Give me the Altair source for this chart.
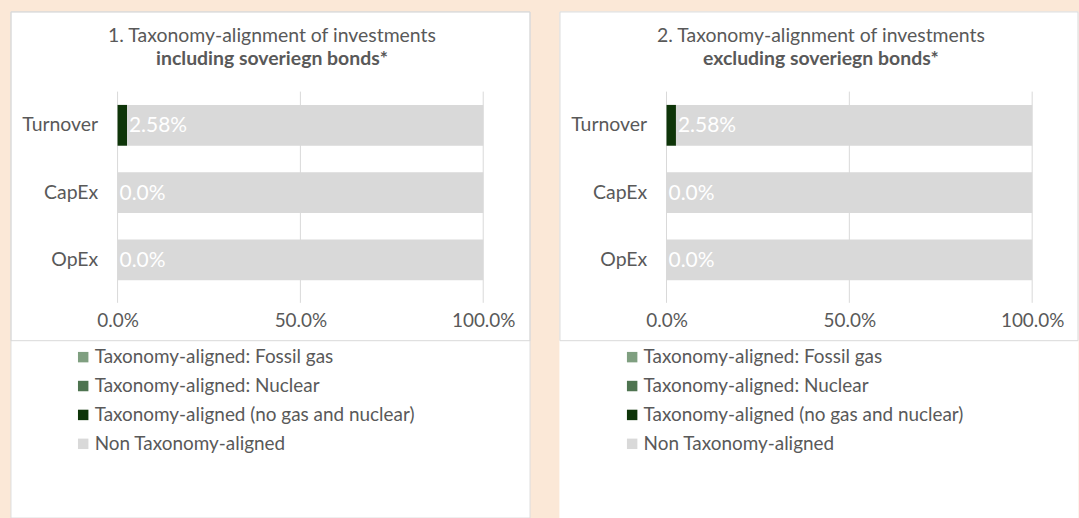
import altair as alt
import pandas as pd

# ---- data ----
categories = ["Turnover", "CapEx", "OpEx"]
series_names = [
    "Taxonomy-aligned: Fossil gas",
    "Taxonomy-aligned: Nuclear",
    "Taxonomy-aligned (no gas and nuclear)",
    "Non Taxonomy-aligned",
]
series_colors = ["#7F9F80", "#4E7450", "#0E3509", "#D9D9D9"]

incl_fossil = [0.0, 0.0, 0.0]
incl_nuclear = [0.0, 0.0, 0.0]
incl_aligned = [0.0258, 0.0, 0.0]
incl_non = [0.9742, 1.0, 1.0]
incl_labels = ["2.58%", "0.0%", "0.0%"]

excl_fossil = [0.0, 0.0, 0.0]
excl_nuclear = [0.0, 0.0, 0.0]
excl_aligned = [0.0258, 0.0, 0.0]
excl_non = [0.9742, 1.0, 1.0]
excl_labels = ["2.58%", "0.0%", "0.0%"]

tick_values = [0.0, 0.5, 1.0]

titles_1 = ["1. Taxonomy-alignment of investments", "including soveriegn bonds*"]
titles_2 = ["2. Taxonomy-alignment of investments", "excluding soveriegn bonds*"]

TEXT = "#595959"
FONT = "Lato"
W, H = 367, 212


def panel(fossil, nuclear, aligned, non, labels, titles, right_edge, left_border):
    rows = []
    for i, c in enumerate(categories):
        for k, (s, vals) in enumerate(zip(series_names, [fossil, nuclear, aligned, non])):
            rows.append({"cat": c, "series": s, "value": vals[i], "order": k})
    df = pd.DataFrame(rows)
    lab = pd.DataFrame({"cat": categories, "aligned": aligned, "label": labels})
    grid = pd.DataFrame({"v": tick_values})
    one = alt.Data(values=[{}])

    xscale = alt.Scale(domain=[0, 1])
    yscale = alt.Scale(domain=categories, paddingInner=0.393, paddingOuter=0.267, align=0.37)

    bg = alt.Chart(one).mark_rect(color="white", stroke="#DDDDDD" if left_border else "white",
                                  strokeWidth=1).encode(
        x=alt.value(-107), x2=alt.value(right_edge), y=alt.value(-80), y2=alt.value(428)
    )
    box = alt.Chart(one).mark_rect(fillOpacity=0, stroke="#D9D9D9", strokeWidth=1).encode(
        x=alt.value(-107), x2=alt.value(right_edge), y=alt.value(-80), y2=alt.value(250)
    )
    rules = alt.Chart(grid).mark_rule(color="#D9D9D9", strokeWidth=1).encode(
        x=alt.X("v:Q", scale=xscale), y=alt.value(0), y2=alt.value(H)
    )
    bars = alt.Chart(df).mark_bar().encode(
        x=alt.X("value:Q", stack="zero", scale=xscale,
                axis=alt.Axis(values=tick_values, format=".1%", grid=False, domain=False,
                              ticks=False, tickSize=0, labelPadding=9, labelFontSize=19,
                              labelFont=FONT, labelColor=TEXT, title=None, zindex=1,
                              labelFlush=False, labelOverlap=False)),
        y=alt.Y("cat:N", scale=yscale, sort=categories,
                axis=alt.Axis(domain=False, ticks=False, tickSize=0, labelPadding=20,
                              labelFontSize=19.5, labelFont=FONT, labelColor=TEXT, title=None,
                              zindex=1)),
        color=alt.Color("series:N",
                        scale=alt.Scale(domain=series_names, range=series_colors),
                        legend=alt.Legend(orient="none", legendX=-44, legendY=257, title=None,
                                          symbolType="square", symbolSize=110,
                                          symbolStrokeWidth=0, labelFontSize=19,
                                          labelFont=FONT, labelColor=TEXT, labelLimit=500,
                                          rowPadding=9, labelOffset=2, padding=0,
                                          direction="vertical")),
        order=alt.Order("order:Q"),
    )
    texts = alt.Chart(lab).mark_text(align="left", baseline="middle", dx=2, dy=1,
                                     fontSize=21, font=FONT, color="white").encode(
        x=alt.X("aligned:Q", scale=xscale),
        y=alt.Y("cat:N", scale=yscale, sort=categories),
        text="label:N",
    )
    t1 = alt.Chart(one).mark_text(text=titles[0], align="center", baseline="alphabetic",
                                  fontSize=19.5, font=FONT, color=TEXT).encode(
        x=alt.value(155), y=alt.value(-50)
    )
    t2 = alt.Chart(one).mark_text(text=titles[1], align="center", baseline="alphabetic",
                                  fontSize=19.5, font=FONT, fontWeight="bold", color=TEXT).encode(
        x=alt.value(155), y=alt.value(-27)
    )
    return alt.layer(bg, box, rules, bars, texts, t1, t2).properties(width=W, height=H)


left = panel(incl_fossil, incl_nuclear, incl_aligned, incl_non, incl_labels, titles_1, 414, True)
right = panel(excl_fossil, excl_nuclear, excl_aligned, excl_non, excl_labels, titles_2, 413, False)

chart = (
    alt.hconcat(left, right, spacing=28)
    .resolve_scale(color="independent", x="independent", y="independent")
    .properties(background="#FBE8D7",
                padding={"left": 10, "top": 10, "right": 0, "bottom": 0})
    .configure_view(stroke="transparent")
)

chart.save("out.html", embed_options={"renderer": "svg", "actions": False})
